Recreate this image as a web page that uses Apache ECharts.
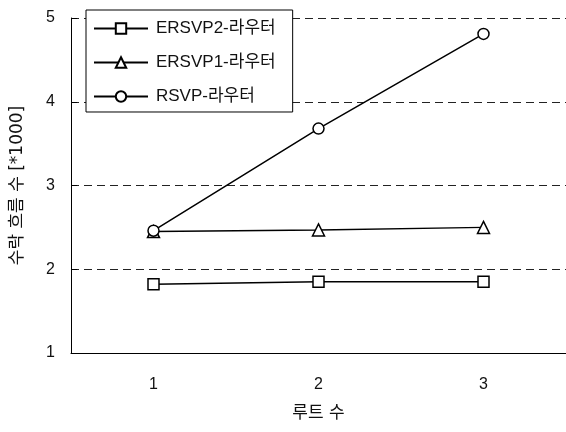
<!DOCTYPE html>
<html>
<head>
<meta charset="utf-8">
<script src="https://cdn.jsdelivr.net/npm/echarts@6/dist/echarts.min.js"></script>
<style>
  html, body { margin: 0; padding: 0; background: #fff; }
  #chart { width: 566px; height: 432px; }
</style>
</head>
<body>
<div id="chart"></div>
<script>
// Route counts on the x axis
const routes = ['1', '2', '3'];

// Accepted flows (in thousands) per router type
const ersvp2 = [1.82, 1.85, 1.85];
const ersvp1 = [2.45, 2.47, 2.50];
const rsvp = [2.46, 3.68, 4.81];

const seriesNames = ['ERSVP2-라우터', 'ERSVP1-라우터', 'RSVP-라우터'];
const yTicks = [1, 2, 3, 4, 5];

const FONT = '"Liberation Sans", "Noto Sans CJK KR", sans-serif';
const WIDE_FONT = '"DejaVu Sans", "Noto Sans CJK KR", sans-serif';

function lineSeries(name, data, symbol, size) {
  return {
    name: name,
    type: 'line',
    data: data,
    symbol: symbol,
    symbolSize: size,
    showAllSymbol: true,
    lineStyle: { color: '#000', width: 1.5 },
    itemStyle: { color: '#fff', borderColor: '#000', borderWidth: 1.5 },
    emphasis: { disabled: true }
  };
}

const chart = echarts.init(document.getElementById('chart'), null, { renderer: 'canvas' });
chart.setOption({
  animation: false,
  backgroundColor: '#fff',
  grid: { left: 71, top: 18, width: 498, bottom: 79, containLabel: false },
  legend: {
    orient: 'vertical',
    left: 86,
    top: 10,
    padding: [10, 17, 7, 7],
    itemGap: 17,
    itemWidth: 54,
    itemHeight: 13,
    borderColor: '#000',
    borderWidth: 1,
    backgroundColor: '#fff',
    textStyle: { fontFamily: FONT, fontSize: 17, color: '#111', padding: [0, 0, 0, 3] },
    data: seriesNames
  },
  xAxis: {
    type: 'category',
    data: routes,
    boundaryGap: true,
    name: '루트 수',
    nameLocation: 'middle',
    nameGap: 52,
    nameTextStyle: { fontFamily: WIDE_FONT, fontSize: 17, color: '#111' },
    axisLine: { lineStyle: { color: '#000', width: 1 } },
    axisTick: { inside: true, length: 5, lineStyle: { color: '#000' } },
    axisLabel: { fontFamily: FONT, fontSize: 16, color: '#111', margin: 24 },
    splitLine: { show: false }
  },
  yAxis: {
    type: 'value',
    min: yTicks[0],
    max: yTicks[yTicks.length - 1],
    interval: 1,
    name: '수락 흐름 수 [*1000]',
    nameLocation: 'middle',
    nameRotate: 90,
    nameGap: 45,
    nameTextStyle: { fontFamily: WIDE_FONT, fontSize: 17, color: '#111' },
    axisLine: { show: true, lineStyle: { color: '#000', width: 1 } },
    axisTick: { show: true, inside: true, length: 6, lineStyle: { color: '#000' } },
    axisLabel: { fontFamily: FONT, fontSize: 16, color: '#111', margin: 16 },
    splitLine: {
      show: true,
      lineStyle: { color: '#222', width: 1, type: [8, 5] }
    }
  },
  series: [
    lineSeries(seriesNames[0], ersvp2, 'rect', 11),
    lineSeries(seriesNames[1], ersvp1, 'triangle', 12),
    lineSeries(seriesNames[2], rsvp, 'circle', 11)
  ]
});
</script>
</body>
</html>
